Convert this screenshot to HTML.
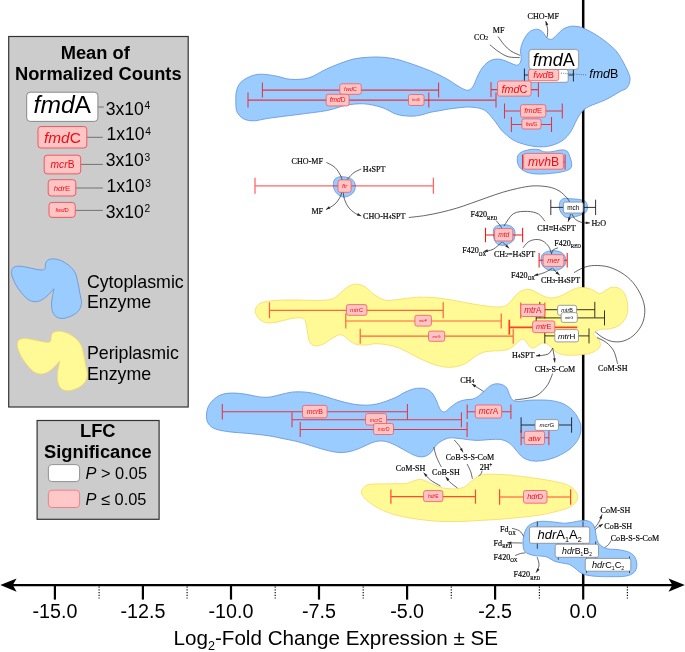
<!DOCTYPE html>
<html><head><meta charset="utf-8"><title>Log2-Fold Change Expression</title>
<style>
html,body{margin:0;padding:0;background:#fff}
svg{display:block}
text{font-family:"Liberation Sans",sans-serif}
text.s{font-family:"Liberation Serif",serif;fill:#000;stroke:#000;stroke-width:0.18px}
text.b{font-weight:bold}
</style></head><body>
<svg width="685" height="652" viewBox="0 0 685 652">
<rect width="685" height="652" fill="#fff"/>
<path d="M559.3 205.3C559.4 204 559.5 202.3 560.3 201.2C561.1 200 562.2 198.8 563.9 198.4C565.6 198 568 198.5 570.5 198.7C573 198.9 576.4 199.1 578.7 199.4C581 199.7 582.9 200 584.3 200.7C585.7 201.4 586.4 202.5 586.9 203.8C587.4 205.1 587.6 207 587.4 208.4C587.2 209.8 586.8 211 585.9 212C585 213 583.5 213.7 581.8 214.5C580.1 215.3 577.8 216 575.7 216.6C573.7 217.2 571.3 217.8 569.5 217.8C567.7 217.8 566.3 217.6 564.9 216.8C563.5 216 562.2 214.3 561.3 213C560.4 211.7 559.8 210.2 559.5 208.9C559.2 207.6 559.2 206.6 559.3 205.3Z" fill="#9accff" stroke="#5f90d8" stroke-width="0.8"/>
<path d="M583.2 0V585" stroke="#000" stroke-width="2.5" fill="none"/>
<path d="M235.8 101.3C235.7 97.8 235.7 94.1 236.5 91C237.3 87.9 238.3 85 240.6 82.5C242.9 80 247 77.7 250.5 76.3C254 74.9 257.2 74.2 261.5 74.2C265.8 74.2 271.1 75.2 276 76C280.9 76.8 285.2 79 290.7 79.3C296.2 79.6 302.9 79.6 309 77.8C315.1 76 320.5 71.6 327.2 68.7C333.9 65.8 342.9 62.1 349 60.3C355.1 58.4 359.1 58.1 364 57.6C368.9 57.1 373.5 56.9 378.3 57C383.1 57.1 388.1 57.6 393 58.5C397.9 59.4 401.4 60.5 407.5 62.5C413.6 64.5 422.8 67.8 429.4 70.5C436 73.2 442.6 76.6 447 79C451.4 81.4 453.2 83.1 456 84.8C458.8 86.5 461.8 88.4 464 89.3C466.2 90.2 467.4 90.5 469 90C470.6 89.5 472.1 87.9 473.3 86C474.6 84.1 475.3 81.1 476.5 78.5C477.7 75.9 479.1 72.8 480.5 70.5C481.9 68.2 483.4 66.1 485.2 64.4C486.9 62.7 489.1 61.2 491 60.3C492.9 59.4 494.9 59.2 496.9 59.1C498.8 59 500.6 59.3 502.7 59.9C504.8 60.5 507.6 61.8 509.7 62.6C511.8 63.5 514 64.7 515.5 65C517 65.3 517.7 65.1 518.5 64.6C519.3 64.1 520 63.2 520.5 62C521 60.8 521.2 59.1 521.2 57.4C521.2 55.6 520.5 53.5 520.5 51.5C520.5 49.5 520.8 47.8 521.4 45.7C522 43.6 523.1 40.9 524.3 38.7C525.5 36.6 526.9 34.3 528.4 32.8C529.9 31.3 531.5 30.5 533.1 29.9C534.7 29.3 536.2 29 537.7 29.3C539.2 29.6 541.1 30.6 542.4 31.7C543.7 32.8 544.5 34.7 545.3 35.8C546.1 36.9 546.3 37.5 547.1 38.1C547.9 38.7 549 39.2 550 39.3C551 39.4 551.8 39.4 553 38.5C554.2 37.6 555.7 35.9 557.5 34.2C559.3 32.6 561.7 29.9 564 28.6C566.3 27.3 569.1 26.5 571.4 26.2C573.7 25.9 576.1 26.3 578 26.6C579.9 26.9 580.5 26.9 583 28C585.5 29.1 589.7 31.1 593 33C596.3 34.9 600 37.3 603 39.5C606 41.7 608.5 43.8 611 46C613.5 48.2 615.3 49.6 617.7 53C620.1 56.4 623.5 62.3 625.5 66.5C627.5 70.7 629.7 74.5 630 78C630.3 81.5 629.1 85.2 627.4 87.4C625.7 89.7 622.9 89.8 620 91.5C617.1 93.2 613.1 95.8 610 97.5C606.9 99.2 604.8 100.1 601.5 101.5C598.2 102.9 593.1 104.5 590 106C586.9 107.5 585 108.6 583 110.5C581 112.4 579.7 114.7 578 117.5C576.3 120.3 574.4 124.8 573 127.5C571.6 130.2 570.9 131.7 569.5 133.6C568.1 135.5 566.3 137.5 564.5 139C562.7 140.5 561 141.7 558.7 142.8C556.5 143.9 553.5 144.9 551 145.6C548.5 146.3 546.1 146.7 543.4 146.8C540.7 147 537.5 146.8 535 146.5C532.5 146.2 530.6 145.9 528.1 145.3C525.6 144.7 522.5 143.9 520 143C517.5 142.1 515.1 141.2 512.8 139.8C510.5 138.4 508.1 136.3 506 134.5C503.9 132.7 502.2 131.1 500.5 129C498.8 126.9 497 124 495.5 122C494 120 492.7 118.5 491.3 116.8C489.9 115.1 488.5 113.3 487 112C485.5 110.7 484.1 109.8 482.1 109.1C480.1 108.3 477.6 107.8 475 107.5C472.4 107.2 469.8 106.9 466.8 107C463.8 107.1 460.1 107.7 457 108C453.9 108.3 451.6 108.6 448.4 109.1C445.2 109.6 441.1 110.5 438 111C434.9 111.5 432.8 111.7 430 112.4C427.2 113.1 424.1 114.4 421 115C417.9 115.6 415.2 116.3 411.1 116.2C407 116.1 401.4 115.8 396.5 114.3C391.6 112.8 387.5 109.2 382 107.5C376.5 105.8 369.8 104.1 363.7 103.8C357.6 103.5 351.5 104.3 345.4 105.4C339.3 106.5 335.1 109 327.2 110.5C319.3 112 307.7 113.2 298 114.5C288.3 115.8 276.1 117.2 268.8 118.3C261.5 119.3 258.2 120.7 254 120.8C249.8 120.9 246.3 120.3 243.5 118.8C240.7 117.3 238.3 114.7 237 111.8C235.7 108.9 235.9 104.8 235.8 101.3Z" fill="#9accff" stroke="#5f90d8" stroke-width="0.8"/>
<path d="M517.3 159.9C517.3 158.2 517.3 156.1 518.4 154.6C519.5 153.1 521.5 152 523.7 151.1C526 150.2 529.4 149.6 531.9 149.3C534.4 149.1 537 149.2 538.9 149.6C540.8 150 541.4 151.3 543.5 151.7C545.6 152 548.8 152 551.7 151.7C554.6 151.4 558.6 150 561.1 149.9C563.6 149.8 565.5 150 566.9 151.1C568.3 152.2 569 154.3 569.8 156.4C570.6 158.5 571.5 161.4 571.6 163.4C571.7 165.4 571.8 167.2 570.4 168.6C569 169.9 566.5 170.7 563.4 171.5C560.3 172.3 555.8 172.9 551.7 173.3C547.6 173.7 542.8 174.2 538.9 174.1C535 174 531.3 173.5 528.4 172.7C525.5 171.9 523.1 170.6 521.4 169.2C519.7 167.8 518.8 166.1 518.1 164.5C517.4 162.9 517.2 161.6 517.3 159.9Z" fill="#9accff" stroke="#5f90d8" stroke-width="0.8"/>
<path d="M333.3 185.8C333.3 184.2 333.4 181.4 334.3 179.9C335.2 178.4 336.9 177.5 338.7 177C340.5 176.5 343.1 176.6 345.3 177C347.5 177.4 350.2 178 351.8 179.2C353.4 180.4 354.8 182.4 355.2 184.3C355.6 186.2 355.2 189 354.3 190.9C353.4 192.8 351.5 194.5 349.6 195.5C347.7 196.5 345.2 197.3 343.1 197C341 196.7 338.7 195.1 337.2 193.8C335.7 192.5 334.9 190.7 334.3 189.4C333.7 188.1 333.3 187.4 333.3 185.8Z" fill="#9accff" stroke="#5f90d8" stroke-width="0.8"/>
<path d="M493.4 231.1C493.6 229.1 493.9 227.7 495.3 226.7C496.7 225.7 499.6 225.1 501.9 224.9C504.2 224.7 507.2 224.8 509.2 225.5C511.2 226.2 512.9 227.4 513.9 228.9C514.9 230.4 515.1 232.8 515 234.7C514.9 236.6 514.5 238.9 513.3 240.5C512.1 242.1 509.6 243.4 507.7 244.2C505.8 245 503.7 245.5 501.9 245.4C500.1 245.3 498.1 244.7 496.8 243.5C495.5 242.3 494.5 240.5 493.9 238.4C493.3 236.3 493.2 233.1 493.4 231.1Z" fill="#9accff" stroke="#5f90d8" stroke-width="0.8"/>
<path d="M541 258.8C541.1 257.1 541.5 255.4 542.8 254.1C544.1 252.8 546.4 251.8 548.6 251.2C550.8 250.6 553.6 250.5 555.9 250.8C558.2 251.1 560.9 251.9 562.5 253.2C564.1 254.5 565.4 256.8 565.8 258.8C566.2 260.8 565.7 263.6 564.7 265.4C563.7 267.1 561.7 268.4 559.6 269.3C557.5 270.2 554.6 270.6 552.3 270.5C550 270.4 547.4 269.7 545.7 268.7C544 267.7 542.8 266.2 542 264.6C541.2 263 540.9 260.6 541 258.8Z" fill="#9accff" stroke="#5f90d8" stroke-width="0.8"/>
<path d="M255.2 310.7C255.4 309.2 255.9 306.9 257.3 305.5C258.7 304.1 260.3 303 263.4 302.1C266.5 301.2 270.2 300.8 275.7 300.4C281.1 300 289.3 300 296.1 300C302.9 300 310.7 300.5 316.5 300.4C322.3 300.3 327.1 300.4 330.8 299.4C334.6 298.4 336.3 296.3 339 294.3C341.7 292.3 344.3 288.9 347.2 287.2C350.1 285.5 353.3 284.1 356.4 284.1C359.5 284.1 362.7 285.5 365.6 287.2C368.5 288.9 370.5 292.1 373.8 294.3C377.1 296.5 381.6 299.3 385.2 300.2C388.8 301.1 391.6 300.1 395.4 299.8C399.1 299.5 403.6 298.6 407.7 298.2C411.8 297.8 415.2 297.3 420 297.2C424.8 297.1 430.9 297.3 436.3 297.8C441.8 298.3 447.2 299.3 452.7 300.2C458.1 301.1 463.6 302.4 469 303.3C474.4 304.2 480.6 305.3 485.4 305.9C490.2 306.5 494.3 307 497.6 307C500.9 307 502.8 306.9 505 306C507.2 305.1 508.7 303.4 510.7 301.5C512.7 299.6 514.6 296.2 516.8 294.3C519 292.4 521.8 290.6 524 289.8C526.2 289 527.8 289.1 530 289.6C532.2 290.1 534.7 291.7 537 292.8C539.3 293.9 541.7 295.4 544 296.3C546.3 297.2 548.4 298 551 298C553.6 298 556.9 297.3 559.8 296.3C562.7 295.3 565.9 293.2 568.5 291.9C571.1 290.6 573.1 289.1 575.6 288.4C578.1 287.7 580.8 287.4 583.4 287.5C586 287.6 588.9 288.4 591.3 289.3C593.6 290.2 595.8 292.2 597.5 292.8C599.2 293.4 600.2 293.7 601.8 293.1C603.4 292.5 605.4 290.3 607.1 289.3C608.9 288.3 610.2 287.4 612.3 287.2C614.3 287 617.3 287.3 619.4 288.4C621.5 289.5 623.3 291.5 624.6 293.7C625.9 295.9 626.7 298.7 627.2 301.5C627.7 304.3 628.1 307.5 627.8 310.3C627.5 313.1 626.9 315.7 625.5 318.2C624.1 320.7 621.9 323.4 619.4 325.2C616.9 326.9 613.5 328 610.6 328.7C607.7 329.4 604.3 328.8 601.8 329.2C599.3 329.6 597.1 330.5 595.7 331.3C594.3 332.1 593.7 333.1 593.6 334C593.5 334.9 594.3 335.6 595.1 336.5C595.9 337.4 597.7 337.8 598.6 339.3C599.5 340.8 600.7 343.6 600.4 345.4C600.1 347.1 598.6 348.5 596.9 349.8C595.1 351.1 593.1 352.4 589.9 353.3C586.7 354.2 581.7 354.7 577.6 355C573.5 355.3 568.8 355.4 565.3 355C561.8 354.6 559.1 353.8 556.6 352.4C554.1 350.9 552.5 347.9 550.4 346.3C548.3 344.7 546.2 343.1 544.3 342.8C542.4 342.5 540.9 343.6 539.1 344.5C537.4 345.4 535.4 347.7 533.8 348C532.2 348.3 530.9 347.6 529.4 346.3C527.9 345 526.3 341.3 525 340.1C523.7 338.9 523 338.7 521.5 339.3C520 339.9 518.3 342.1 516.3 343.7C514.3 345.3 511.9 347.7 509.3 348.9C506.7 350.1 503.1 350.4 500.5 350.7C497.9 351 496.4 350.6 493.5 350.9C490.6 351.2 486.4 351.4 483.3 352.3C480.2 353.2 477.8 354.7 475.1 356.4C472.4 358.1 469.7 361 467 362.6C464.3 364.2 461.9 365.2 458.8 366C455.7 366.8 452.4 367.4 448.6 367.3C444.9 367.2 440.4 366.3 436.3 365.2C432.2 364.1 428.1 362.3 424 360.5C419.9 358.7 415.9 356.4 411.8 354.4C407.7 352.3 403.6 349.8 399.5 348.2C395.4 346.6 391.4 345.6 387.3 344.8C383.2 344.1 378.3 343.7 375 343.7C371.7 343.7 370.7 344.9 367.6 345C364.5 345.1 359.5 345.2 356.4 344.4C353.3 343.6 351.4 341.8 349.2 340.3C347 338.8 345 336.2 343.1 335.4C341.2 334.5 340.1 334.5 338 335.2C335.9 335.9 333.4 337.8 330.8 339.3C328.2 340.8 325.4 343.3 322.7 344.4C320 345.5 316.7 346.3 314.5 345.8C312.3 345.3 310.6 343.8 309.4 341.3C308.2 338.9 308 334.5 307.3 331.1C306.6 327.7 306.5 323.1 305.3 320.9C304.1 318.7 302.8 318.1 300.2 317.8C297.6 317.5 293.8 318.1 290 318.8C286.2 319.5 281.4 321.2 277.7 321.9C273.9 322.6 270.4 323.2 267.5 322.9C264.6 322.6 262.2 321.3 260.3 319.9C258.4 318.5 257.1 316.2 256.2 314.7C255.3 313.2 255 312.2 255.2 310.7Z" fill="#fffa96" stroke="#f7d860" stroke-width="0.8"/>
<path d="M206.5 414C206.8 410.8 207.6 407.2 209.6 404.2C211.6 401.2 215 397.9 218.4 396C221.8 394.1 225.6 393.4 230 393.1C234.4 392.8 239.7 393.4 244.6 394C249.5 394.6 254.8 396.4 259.2 396.9C263.6 397.4 267 397.4 270.9 396.9C274.8 396.4 278.7 394.8 282.6 394C286.5 393.2 289.9 392.1 294.3 391.9C298.7 391.6 304 391.8 308.9 392.5C313.8 393.2 318.1 394.5 323.5 396C328.9 397.5 335.2 399.8 341 401.3C346.8 402.8 352.7 404.3 358.5 404.8C364.3 405.3 369.9 405.4 376 404.2C382.1 403 390.4 399.6 395 397.7C399.6 395.8 400.9 394.2 403.8 392.8C406.7 391.4 409.8 390 412.5 389.2C415.2 388.4 417.8 388.2 420 388.2C422.2 388.1 423.9 388.2 425.8 388.9C427.8 389.6 430 390.7 431.7 392.5C433.4 394.3 434.9 397.4 436.1 399.8C437.3 402.2 438 405.2 439 407.1C440 409 440.8 410.5 441.9 411.2C443 411.9 444 412.2 445.5 411.5C447 410.8 448.6 408.7 450.7 407.1C452.8 405.5 455.6 403.2 458 402C460.4 400.8 462.9 400.3 465.3 399.8C467.7 399.3 470.4 399.7 472.6 399.1C474.8 398.5 476.5 397.5 478.4 396.2C480.3 394.9 482.2 392.8 484.2 391.1C486.1 389.4 488.2 387.1 490.1 385.9C492.1 384.7 493.9 384 495.9 383.8C497.8 383.6 500 383.8 501.8 384.5C503.6 385.2 505.6 386.3 506.9 388.1C508.2 389.9 508.7 393.3 509.8 395.4C510.9 397.5 511.7 399.5 513.4 400.5C515.1 401.5 516.9 401.4 520 401.3C523.1 401.2 527.2 400.2 532.2 400.1C537.2 400 544.6 399.8 549.7 400.4C554.8 401 559 401.9 562.9 403.6C566.8 405.4 570.3 408 573.1 410.9C575.9 413.8 578.2 418.2 579.5 421.1C580.8 424 581 425.5 581 428C581 430.5 580.7 433.6 579.6 436.3C578.5 439.1 576.7 441.9 574.5 444.5C572.3 447.1 569.7 449.4 566.3 451.6C562.9 453.8 558.1 456.3 554 457.8C549.9 459.3 545.5 460.3 541.8 460.8C538 461.3 534.6 461.3 531.5 460.8C528.4 460.3 525.8 459.3 523.4 457.8C521 456.3 519.2 453.8 517.2 451.6C515.2 449.4 513.5 446.4 511.1 444.5C508.7 442.6 506 440.9 502.9 440C499.8 439.1 497.1 439.3 492.7 439.4C488.3 439.5 481.8 440.5 476.4 440.4C471 440.3 464.6 439 460.1 438.6C455.6 438.2 452.5 437.6 449.6 437.9C446.7 438.2 444.7 439.4 442.6 440.5C440.5 441.6 438.9 442.5 436.9 444.5C434.9 446.5 432.8 450.7 430.8 452.7C428.8 454.7 426.9 455.8 424.7 456.4C422.5 457 420.2 457.1 417.5 456.4C414.8 455.7 411.5 453.9 408.3 452.3C405.1 450.7 401.5 448.3 398.1 446.6C394.7 444.9 391 443 387.9 442.1C384.8 441.2 382.4 440.9 379.7 441C377 441.1 374.6 441.8 371.5 442.9C368.4 444 365.1 446.1 361.3 447.6C357.6 449.1 353.1 450.9 349 451.7C344.9 452.5 341.6 452.8 336.8 452.3C332 451.8 326.5 450.3 320.4 448.6C314.3 446.9 305.9 443.9 300 442.3C294.1 440.7 290.3 440.1 285 439C279.7 437.9 274.2 436.6 268 435.7C261.8 434.8 253.9 434 247.6 433.4C241.3 432.8 235.4 432.6 230 431.9C224.6 431.2 219.1 430.4 215.4 429C211.8 427.6 209.6 425.7 208.1 423.2C206.6 420.7 206.2 417.2 206.5 414Z" fill="#9accff" stroke="#5f90d8" stroke-width="0.8"/>
<path d="M361.3 492C361.3 490.8 361.8 489.7 362.8 488.5C363.8 487.3 365.3 485.6 367.3 484.9C369.3 484.1 371.9 484.2 375 484C378.1 483.8 382.2 483.9 385.7 483.9C389.2 483.9 392.6 483.9 396 483.8C399.4 483.7 403.4 483.9 406.1 483.5C408.8 483.1 409.8 482.1 412.2 481.4C414.6 480.7 417.7 479.2 420.4 479.4C423.1 479.5 425.2 481 428.6 482.3C432 483.6 437.2 486.3 440.8 487.4C444.4 488.5 447.3 488.6 450 488.8C452.7 489 454.6 489.2 457.2 488.8C459.8 488.4 462.7 488 465.4 486.4C468.1 484.8 470.8 481.3 473.5 479.4C476.2 477.5 478.9 475.9 481.7 475C484.5 474.1 487.3 474.3 490.4 474.2C493.4 474.1 496.6 474.3 500 474.5C503.4 474.7 505.7 474.7 510.9 475.2C516.1 475.7 524.5 476.8 531.3 477.7C538.1 478.6 546 479.8 551.8 480.9C557.6 482 562.4 483 566.1 484.4C569.8 485.8 572.3 487.4 574.2 489.5C576.1 491.6 577.5 494.5 577.7 496.7C577.9 498.9 576.9 500.9 575.3 502.8C573.7 504.7 571.4 506.4 568.1 507.9C564.9 509.4 560.6 510.4 555.8 511.6C551 512.8 545.3 514.2 539.5 515.1C533.7 516 527.6 516.6 521.1 517.3C514.6 518 507.5 518.7 500.7 519.2C493.9 519.7 487.4 520 480.2 520.4C472.9 520.8 464.4 521.5 457.2 521.6C450 521.7 443.6 521.6 436.8 521.2C430 520.8 423.1 520 416.3 519C409.5 518 402 516.7 395.9 515C389.8 513.3 384.3 511.2 379.5 508.8C374.7 506.4 370.1 502.9 367.3 500.7C364.5 498.5 363.6 496.9 362.6 495.5C361.6 494.1 361.3 493.2 361.3 492Z" fill="#fffa96" stroke="#f7d860" stroke-width="0.8"/>
<path d="M523 543C523 540.8 523.1 538.1 523.7 535.7C524.3 533.3 525.2 530.4 526.4 528.5C527.6 526.6 528.6 525.3 530.9 524.1C533.2 522.9 536.5 521.8 540.1 521.4C543.8 521 548.5 521.6 552.8 521.9C557 522.2 561.6 523.3 565.6 523.2C569.6 523.1 573.2 521.9 576.6 521.4C580 520.9 583.1 520.2 585.7 520.5C588.3 520.8 590.5 521.7 592.1 523.2C593.7 524.7 594.5 527 595.2 529.6C596 532.2 595.8 536.1 596.6 538.7C597.5 541.3 598.5 543.4 600.3 545.1C602.1 546.8 604.6 548 607.6 548.8C610.6 549.6 614.9 549.1 618.5 549.7C622.1 550.3 626.7 551 629.5 552.4C632.3 553.8 634.1 555.6 635.3 557.9C636.5 560.2 637 563.7 636.8 566.1C636.6 568.5 635.8 570.8 634 572.5C632.2 574.2 629.6 575.4 625.8 576.1C622 576.8 616.7 576.7 611.2 576.7C605.7 576.7 597.9 576.7 593 576.1C588.1 575.5 585 574.8 582 573.4C579 572 576.8 569.4 574.7 567.9C572.6 566.4 571.4 565.2 569.3 564.4C567.2 563.6 564.4 563.5 562 563C559.6 562.5 557 562.2 554.7 561.3C552.4 560.4 550 558.4 548 557.5C546 556.6 545 556.5 542.7 556.2C540.4 555.9 536.8 556 534.1 555.5C531.4 555 528.4 554 526.7 553C525 552 524.3 550.9 523.7 549.2C523.1 547.5 523 545.2 523 543Z" fill="#9accff" stroke="#5f90d8" stroke-width="0.8"/>
<path d="M489.9 44.8C491.4 46 496.1 50.1 499.2 52.1C502.3 54.1 505.1 55.9 508.5 56.8C511.9 57.7 517.8 57.5 519.6 57.6" fill="none" stroke="#222" stroke-width="0.7"/>
<path d="M498 36.4C499 37.8 501.8 42.1 503.9 44.5C506 46.9 508.2 49.2 510.9 51C513.6 52.8 518.7 54.7 520.2 55.4" fill="none" stroke="#222" stroke-width="0.7"/>
<path d="M547.1 37.5C547.2 36.3 547.8 32.8 547.7 30.5C547.6 28.2 546.8 25.1 546.5 23.5C546.2 21.9 545.8 21.4 545.7 21" fill="none" stroke="#222" stroke-width="0.7"/>
<path d="M545.7 21L548.3 24.6L545.7 25.4Z" fill="#222"/>
<path d="M326.3 162.4C327.8 163.2 332.6 165.2 335 167.5C337.4 169.8 339.5 173.4 340.9 176.3C342.2 179.2 342.6 181.6 343.1 185C343.6 188.4 343 193 343.8 196.7C344.6 200.3 346.2 204.1 348.2 206.9C350.1 209.7 353.3 212 355.5 213.5C357.7 215 360.3 215.6 361.3 216" fill="none" stroke="#222" stroke-width="0.7"/>
<path d="M361.3 216L356.9 215.6L358 213.1Z" fill="#222"/>
<path d="M361.3 169C360.1 169.6 356.3 170.9 354 172.6C351.7 174.3 349.2 177.1 347.4 179.2C345.6 181.3 344.2 182.3 343.1 185C342 187.7 342.2 192.1 340.9 195.3C339.5 198.5 337.5 201.6 335 204C332.5 206.4 327.5 208.7 326 209.6" fill="none" stroke="#222" stroke-width="0.7"/>
<path d="M326 209.6L328.9 206.2L330.3 208.5Z" fill="#222"/>
<path d="M408.8 217.5C411.6 217.2 420.3 216.3 425.7 215.4C431.1 214.5 435.9 213.5 441 212.3C446.1 211.1 451.2 209.8 456.3 208.3C461.4 206.8 466.5 204.9 471.6 203.1C476.7 201.3 481.9 199.4 487 197.6C492.1 195.8 497.2 193.9 502.3 192.4C507.4 190.9 512.5 189.5 517.6 188.4C522.7 187.3 527.9 186.2 533 185.9C538.1 185.7 544 186.1 548.3 186.9C552.6 187.7 555.9 189 559 190.8C562.1 192.6 564.9 195.7 566.7 197.6C568.5 199.5 569.2 201.4 569.7 202.2" fill="none" stroke="#222" stroke-width="0.7"/>
<path d="M571.8 214C572.4 214.9 573.9 218.2 575.7 219.6C577.5 221 580.4 222.1 582.8 222.7C585.2 223.2 588.8 222.9 590 222.9" fill="none" stroke="#222" stroke-width="0.7"/>
<path d="M590 222.9L585.8 224.1L585.8 221.4Z" fill="#222"/>
<path d="M570.5 214C570.3 214.7 569.9 216.7 569.5 218C569.1 219.3 568.2 221.1 568 221.7" fill="none" stroke="#222" stroke-width="0.7"/>
<path d="M568 221.7L568.3 217.3L570.8 218.3Z" fill="#222"/>
<path d="M544.9 221.2C543.8 220 541.3 215.6 538.4 214C535.5 212.4 531.6 211.5 527.4 211.4C523.2 211.3 517.3 211.3 513.4 213.7C509.5 216.1 505.6 223.9 504 226" fill="none" stroke="#222" stroke-width="0.7"/>
<path d="M496 220.5C496.5 221.1 498 222.7 499 224C500 225.3 501.4 227.4 501.9 228.1" fill="none" stroke="#222" stroke-width="0.7"/>
<path d="M501.9 242C500.4 243.2 496.2 247.7 493.1 249.3C490.1 250.9 485.2 251.1 483.6 251.5" fill="none" stroke="#222" stroke-width="0.7"/>
<path d="M483.6 251.5L487.4 249.2L488 251.9Z" fill="#222"/>
<path d="M502.6 242C503.2 242.6 504.9 244.4 506 245.5C507.1 246.6 508.7 247.8 509.2 248.3" fill="none" stroke="#222" stroke-width="0.7"/>
<path d="M509.2 248.3L505.2 246.6L506.9 244.5Z" fill="#222"/>
<path d="M523.1 247.8C524 246.8 526.1 243.4 528.2 242C530.3 240.6 533.1 239.7 535.5 239.5C537.9 239.3 540.6 239.8 542.8 241C545 242.2 547.1 244.3 548.6 246.4C550.1 248.5 551 252.5 551.5 253.7" fill="none" stroke="#222" stroke-width="0.7"/>
<path d="M558.1 247.8C557.2 248.2 554.1 248.9 553 250C551.9 251.1 551.8 253.4 551.5 254.1" fill="none" stroke="#222" stroke-width="0.7"/>
<path d="M552.3 268.3C550.9 269 547.2 271.5 544.2 272.7C541.2 273.9 535.7 275.1 534 275.6" fill="none" stroke="#222" stroke-width="0.7"/>
<path d="M534 275.6L537.7 273.2L538.4 275.7Z" fill="#222"/>
<path d="M553 268.3C553.5 268.9 554.9 270.9 556 272C557.1 273.1 559 274.6 559.6 275.1" fill="none" stroke="#222" stroke-width="0.7"/>
<path d="M559.6 275.1L555.5 273.4L557.3 271.3Z" fill="#222"/>
<path d="M574 272.6C575.6 271.8 580.2 268.8 583.6 267.6C587 266.4 590.1 265.6 594.4 265.5C598.7 265.4 604.4 265.7 609.4 267.2C614.4 268.7 620.1 271.7 624.4 274.7C628.7 277.7 632.2 281.3 635.2 285.4C638.2 289.5 641.1 294.9 642.7 299.4C644.3 303.9 645 308 644.8 312.3C644.6 316.6 643.6 321.3 641.6 325.2C639.6 329.1 636.2 333.2 633 335.9C629.8 338.6 625.9 340.4 622.3 341.3C618.7 342.2 614.9 342 611.5 341.3C608.1 340.6 604.6 338.6 601.9 337C599.2 335.4 596.5 332.8 595.4 332" fill="none" stroke="#222" stroke-width="0.7"/>
<path d="M597 337.6C598.5 338.4 603.4 340.2 606.2 342.4C609 344.6 611.8 347.3 613.7 350.9C615.6 354.5 617 361.6 617.6 363.8" fill="none" stroke="#222" stroke-width="0.7"/>
<path d="M552.7 348C552.9 349.2 553.6 352.6 554 355C554.4 357.4 554.7 361.2 554.8 362.5" fill="none" stroke="#222" stroke-width="0.7"/>
<path d="M554.8 362.5L553 358.5L555.7 358.2Z" fill="#222"/>
<path d="M552.7 348C551.9 349 550.6 352.9 547.8 354.2C545 355.5 537.9 355.6 535.9 355.9" fill="none" stroke="#222" stroke-width="0.7"/>
<path d="M535.9 355.9L539.9 354L540.2 356.6Z" fill="#222"/>
<path d="M552.7 373.5C551.7 375.6 549.7 382.2 546.8 386C543.9 389.8 540.5 394 535.1 396.3C529.8 398.6 518.1 399.4 514.7 400" fill="none" stroke="#222" stroke-width="0.7"/>
<path d="M483.5 391.4C482.5 390.8 479.4 388.8 477.5 387.6C475.6 386.4 472.8 384.6 471.8 384" fill="none" stroke="#222" stroke-width="0.7"/>
<path d="M471.8 384L476.1 385.1L474.6 387.4Z" fill="#222"/>
<path d="M454.3 440C455.2 441 458.1 444.1 459.5 446.1C460.9 448.2 462.4 451.3 463 452.3" fill="none" stroke="#222" stroke-width="0.7"/>
<path d="M463 452.3L459.8 449.3L462.1 448Z" fill="#222"/>
<path d="M433.9 447.2C434.2 448.6 435 452.6 435.9 455.3C436.8 458 438.6 461.5 439.5 463.5C440.4 465.5 441.2 466.5 441.6 467.1" fill="none" stroke="#222" stroke-width="0.7"/>
<path d="M457.4 488C456.1 487 451.6 483.8 449.7 481.9C447.8 480 446.4 477.6 445.7 476.8" fill="none" stroke="#222" stroke-width="0.7"/>
<path d="M445.7 476.8L449.4 479.3L447.2 480.9Z" fill="#222"/>
<path d="M440.5 486C438.8 485 433.1 482.1 430.3 479.9C427.5 477.7 424.8 473.9 423.7 472.7" fill="none" stroke="#222" stroke-width="0.7"/>
<path d="M423.7 472.7L427.5 474.9L425.5 476.7Z" fill="#222"/>
<path d="M467.1 464C467.7 465.3 469.8 469.2 470.7 471.7C471.6 474.2 472.1 477.6 472.4 478.8" fill="none" stroke="#222" stroke-width="0.7"/>
<path d="M482 470.6C481.9 471.1 481.7 472.9 481.1 473.8C480.5 474.7 478.9 475.5 478.5 475.9" fill="none" stroke="#222" stroke-width="0.7"/>
<path d="M512 528.3C513.2 528.7 517.4 529.5 519.4 530.8C521.4 532.1 523 535.4 523.7 536.3" fill="none" stroke="#222" stroke-width="0.7"/>
<path d="M522.4 543C521.2 543 517.5 542.9 515 542.9C512.5 542.9 508.4 542.8 507.1 542.8" fill="none" stroke="#222" stroke-width="0.7"/>
<path d="M507.1 542.8L511.3 541.5L511.3 544.2Z" fill="#222"/>
<path d="M515.1 555.6C516 555.2 518.9 554 520.6 553.5C522.3 553 524.7 553 525.5 552.9" fill="none" stroke="#222" stroke-width="0.7"/>
<path d="M537.1 557.1C537.4 558.2 538.9 561.8 539 563.9C539.1 566 538.3 568.6 537.8 570C537.3 571.4 536.2 572.1 535.9 572.5" fill="none" stroke="#222" stroke-width="0.7"/>
<path d="M535.9 572.5L537.4 568.3L539.5 570Z" fill="#222"/>
<path d="M594.8 527.8C595.5 526.8 597.8 524.2 599 522C600.2 519.8 601.6 515.8 602.1 514.5" fill="none" stroke="#222" stroke-width="0.7"/>
<path d="M602.1 514.5L601.7 518.9L599.2 517.9Z" fill="#222"/>
<path d="M595.2 529.6C595.8 529.1 597.7 527.4 599 526.5C600.3 525.6 602.3 524.5 603 524.1" fill="none" stroke="#222" stroke-width="0.7"/>
<path d="M603 524.1L600.1 527.4L598.7 525.1Z" fill="#222"/>
<path d="M611.2 540.5C610.8 541.2 609.5 543.3 608.5 544.5C607.5 545.7 605.5 547 604.9 547.5" fill="none" stroke="#222" stroke-width="0.7"/>
<path d="M262.4 90.1H438.6M262.4 82.6V97.6M438.6 82.6V97.6" fill="none" stroke="#ff0000" stroke-width="1.05" opacity="0.75"/>
<path d="M248 100.1H496M248 92.6V107.6M496 92.6V107.6" fill="none" stroke="#ff0000" stroke-width="1.05" opacity="0.75"/>
<path d="M428.8 100.1H428.8M428.8 92.6V107.6" fill="none" stroke="#ff0000" stroke-width="1.05" opacity="0.75"/>
<path d="M491 89.6H538.4M491 82.1V97.1M538.4 82.1V97.1" fill="none" stroke="#ff0000" stroke-width="1.05" opacity="0.75"/>
<path d="M504.5 111H562.3M504.5 103.5V118.5M562.3 103.5V118.5" fill="none" stroke="#ff0000" stroke-width="1.05" opacity="0.75"/>
<path d="M511.4 124.4H551.5M511.4 116.9V131.9M551.5 116.9V131.9" fill="none" stroke="#ff0000" stroke-width="1.05" opacity="0.75"/>
<path d="M524.4 75H573.4M524.4 68.5V81.5M573.4 68.5V81.5" fill="none" stroke="#111" stroke-width="1.0" opacity="0.85"/>
<path d="M522.5 162H565.1M522.5 154.4V169.6M565.1 154.4V169.6" fill="none" stroke="#ff0000" stroke-width="1.05" opacity="0.75"/>
<path d="M255 185.8H433.4M255 177.8V193.8M433.4 177.8V193.8" fill="none" stroke="#ff0000" stroke-width="1.3" opacity="0.6"/>
<path d="M550.8 207.4H595.6M550.8 199.7V215.1M595.6 199.7V215.1" fill="none" stroke="#111" stroke-width="1.0" opacity="0.85"/>
<path d="M485.5 235H522.6M485.5 227.7V242.3M522.6 227.7V242.3" fill="none" stroke="#ff0000" stroke-width="1.05" opacity="0.92"/>
<path d="M539.1 260.3H567.2M539.1 253V267.6M567.2 253V267.6" fill="none" stroke="#ff0000" stroke-width="1.05" opacity="0.92"/>
<path d="M269.5 310.3H443.2M269.5 302.3V318.3M443.2 302.3V318.3" fill="none" stroke="#ff0000" stroke-width="1.2" opacity="0.6"/>
<path d="M345.8 321H501.2M345.8 313.5V328.5M501.2 313.5V328.5" fill="none" stroke="#ff0000" stroke-width="1.2" opacity="0.6"/>
<path d="M360.2 336.2H513.2M360.2 328.7V343.7M513.2 328.7V343.7" fill="none" stroke="#ff0000" stroke-width="1.2" opacity="0.6"/>
<path d="M520.8 310.5H544.8M520.8 302.5V318.5M544.8 302.5V318.5" fill="none" stroke="#ff0000" stroke-width="1.05" opacity="0.75"/>
<path d="M509.3 327.3H577.3M509.3 319.8V334.8" fill="none" stroke="#ff0000" stroke-width="1.7" opacity="0.75"/>
<path d="M539.8 309.7H594.8M539.8 301.9V317.5M594.8 301.9V317.5" fill="none" stroke="#111" stroke-width="1.0" opacity="0.85"/>
<path d="M536.2 317.9H604.5M536.2 310.4V325.4M604.5 310.4V325.4" fill="none" stroke="#111" stroke-width="1.0" opacity="0.85"/>
<path d="M544.8 335.9H589M544.8 328.4V343.4M589 328.4V343.4" fill="none" stroke="#111" stroke-width="1.0" opacity="0.85"/>
<path d="M222.3 411.7H407.4M222.3 403.9V419.5M407.4 403.9V419.5" fill="none" stroke="#ff0000" stroke-width="1.05" opacity="0.75"/>
<path d="M292 419.7H461.4M292 412.2V427.2M461.4 412.2V427.2" fill="none" stroke="#ff0000" stroke-width="1.05" opacity="0.75"/>
<path d="M300.2 429.5H467.1M300.2 422.1V436.9M467.1 422.1V436.9" fill="none" stroke="#ff0000" stroke-width="1.05" opacity="0.75"/>
<path d="M467.2 411.7H510.9M467.2 404.4V419M510.9 404.4V419" fill="none" stroke="#ff0000" stroke-width="1.05" opacity="0.75"/>
<path d="M521.1 425H571.6M521.1 417.3V432.7M571.6 417.3V432.7" fill="none" stroke="#111" stroke-width="1.0" opacity="0.85"/>
<path d="M521.1 437.8H548.9M521.1 430.3V445.3M548.9 430.3V445.3" fill="none" stroke="#ff0000" stroke-width="1.05" opacity="0.75"/>
<path d="M390.9 496.6H475.5M390.9 489.4V503.8M475.5 489.4V503.8" fill="none" stroke="#ff0000" stroke-width="1.2" opacity="0.7"/>
<path d="M499.6 497H570.6M499.6 489.2V504.8M570.6 489.2V504.8" fill="none" stroke="#ff0000" stroke-width="1.2" opacity="0.7"/>
<path d="M537.3 521.4V548.8M583 521.4V548.8M558.3 541.5V559.7M595.7 541.5V559.7M586.6 556.6V573M629.5 556.6V573" stroke="#345" stroke-width="1" fill="none"/>
<rect x="339.8" y="83.8" width="21.4" height="10.5" rx="2" fill="#ffc5c5" stroke="#f2585f" stroke-width="0.8"/>
<text x="350.5" y="91" font-size="5.6" fill="#f00c14" text-anchor="middle"><tspan font-style="italic">fwd</tspan>C</text>
<rect x="326.2" y="94.3" width="22.8" height="11.6" rx="2" fill="#ffc5c5" stroke="#f2585f" stroke-width="0.8"/>
<text x="337.6" y="102.3" font-size="6.6" fill="#f00c14" text-anchor="middle"><tspan font-style="italic">fmd</tspan>D</text>
<rect x="408.5" y="94.5" width="15.5" height="11" rx="2" fill="#ffc5c5" stroke="#f2585f" stroke-width="0.8"/>
<text x="416.2" y="101.2" font-size="3.6" fill="#f00c14" text-anchor="middle"><tspan font-style="italic">fwd</tspan>D</text>
<rect x="528.7" y="69.5" width="39.5" height="12.8" rx="2" fill="#fff" stroke="#888" stroke-width="0.8"/>
<path d="M561 73.1L587 75" stroke="#555" stroke-width="0.8" stroke-dasharray="1 1.2" fill="none"/>
<rect x="528.5" y="69.5" width="30.2" height="11.1" rx="2" fill="#ffc5c5" stroke="#f2585f" stroke-width="0.8"/>
<text x="543.6" y="77.8" font-size="9.2" fill="#f00c14" text-anchor="middle"><tspan font-style="italic">fwd</tspan>B</text>
<rect x="529" y="49.4" width="49.6" height="20" rx="3" fill="#ffffff" stroke="#888" stroke-width="0.8"/>
<text x="553.8" y="66.2" font-size="18" fill="#000" text-anchor="middle"><tspan font-style="italic">fmd</tspan>A</text>
<text x="589.2" y="77.6" font-size="12.5"><tspan font-style="italic">fmd</tspan>B</text>
<rect x="497.6" y="81" width="33.4" height="15.1" rx="2" fill="#ffc5c5" stroke="#f2585f" stroke-width="0.8"/>
<text x="514.3" y="92.6" font-size="10.8" fill="#f00c14" text-anchor="middle"><tspan font-style="italic">fmd</tspan>C</text>
<rect x="520.5" y="104.7" width="25.3" height="12.5" rx="2" fill="#ffc5c5" stroke="#f2585f" stroke-width="0.8"/>
<text x="533.1" y="113.3" font-size="7.6" fill="#f00c14" text-anchor="middle"><tspan font-style="italic">fmd</tspan>E</text>
<rect x="521.9" y="118.9" width="19.1" height="10.1" rx="2" fill="#ffc5c5" stroke="#f2585f" stroke-width="0.8"/>
<text x="531.5" y="125.8" font-size="5" fill="#f00c14" text-anchor="middle"><tspan font-style="italic">fwd</tspan>G</text>
<rect x="523.7" y="153.4" width="39.7" height="15.8" rx="2" fill="#ffc5c5" stroke="#f2585f" stroke-width="0.8"/>
<text x="543.5" y="165.8" font-size="12.2" fill="#f00c14" text-anchor="middle"><tspan font-style="italic">mvh</tspan>B</text>
<rect x="338" y="179.9" width="13.1" height="12.4" rx="2" fill="#ffc5c5" stroke="#f2585f" stroke-width="0.8"/>
<text x="344.6" y="188" font-size="6" fill="#f00c14" text-anchor="middle"><tspan font-style="italic">ftr</tspan></text>
<rect x="563.4" y="202.1" width="19.7" height="10.9" rx="2" fill="#ffffff" stroke="#888" stroke-width="0.8"/>
<text x="573.2" y="209.5" font-size="6.4" fill="#000" text-anchor="middle"><tspan font-style="italic"></tspan>mch</text>
<rect x="494.6" y="228.6" width="18.2" height="12.4" rx="2" fill="#ffc5c5" stroke="#f2585f" stroke-width="0.8"/>
<text x="503.7" y="237" font-size="6.6" fill="#f00c14" text-anchor="middle"><tspan font-style="italic">mtd</tspan></text>
<rect x="543.1" y="254.7" width="20.8" height="11.7" rx="2" fill="#ffc5c5" stroke="#f2585f" stroke-width="0.8"/>
<text x="553.5" y="262.9" font-size="7.2" fill="#f00c14" text-anchor="middle"><tspan font-style="italic">mer</tspan></text>
<rect x="346.4" y="304.6" width="20.5" height="10.7" rx="2" fill="#ffc5c5" stroke="#f2585f" stroke-width="0.8"/>
<text x="356.6" y="312" font-size="6" fill="#f00c14" text-anchor="middle"><tspan font-style="italic">mtr</tspan>C</text>
<rect x="414.9" y="315.3" width="16.5" height="10.8" rx="2" fill="#ffc5c5" stroke="#f2585f" stroke-width="0.8"/>
<text x="423.1" y="322" font-size="3.8" fill="#f00c14" text-anchor="middle"><tspan font-style="italic">mtr</tspan>F</text>
<rect x="428.5" y="331.1" width="16.2" height="10.2" rx="2" fill="#ffc5c5" stroke="#f2585f" stroke-width="0.8"/>
<text x="436.6" y="337.6" font-size="3.6" fill="#f00c14" text-anchor="middle"><tspan font-style="italic">mtr</tspan>G</text>
<rect x="520.8" y="304.3" width="24" height="12.2" rx="2" fill="#ffc5c5" stroke="#f2585f" stroke-width="0.8"/>
<text x="532.8" y="313.2" font-size="8.2" fill="#f00c14" text-anchor="middle"><tspan font-style="italic">mtr</tspan>A</text>
<rect x="557.6" y="305.3" width="19" height="9.9" rx="2" fill="#ffffff" stroke="#888" stroke-width="0.8"/>
<text x="567.1" y="312.2" font-size="5.5" fill="#000" text-anchor="middle"><tspan font-style="italic">mtr</tspan>B</text>
<rect x="561.2" y="312.6" width="16.1" height="9.8" rx="2" fill="#ffffff" stroke="#888" stroke-width="0.8"/>
<text x="569.2" y="318.8" font-size="3.6" fill="#000" text-anchor="middle"><tspan font-style="italic">mtr</tspan>G</text>
<rect x="532.6" y="320.9" width="22.2" height="11.7" rx="2" fill="#ffc5c5" stroke="#f2585f" stroke-width="0.8"/>
<text x="543.7" y="329.3" font-size="7.4" fill="#f00c14" text-anchor="middle"><tspan font-style="italic">mtr</tspan>E</text>
<rect x="554.8" y="329.6" width="23.7" height="12.3" rx="2" fill="#ffffff" stroke="#888" stroke-width="0.8"/>
<text x="566.6" y="338.6" font-size="8" fill="#000" text-anchor="middle"><tspan font-style="italic">mtr</tspan>H</text>
<rect x="302.5" y="405.4" width="24.6" height="12.4" rx="2" fill="#ffc5c5" stroke="#f2585f" stroke-width="0.8"/>
<text x="314.8" y="414" font-size="7" fill="#f00c14" text-anchor="middle"><tspan font-style="italic">mcr</tspan>B</text>
<rect x="365.6" y="413.6" width="20.9" height="11.4" rx="2" fill="#ffc5c5" stroke="#f2585f" stroke-width="0.8"/>
<text x="376.1" y="421.6" font-size="5.3" fill="#f00c14" text-anchor="middle"><tspan font-style="italic">mcr</tspan>C</text>
<rect x="373.6" y="423.5" width="19.9" height="11" rx="2" fill="#ffc5c5" stroke="#f2585f" stroke-width="0.8"/>
<text x="383.6" y="431.4" font-size="4.9" fill="#f00c14" text-anchor="middle"><tspan font-style="italic">mcr</tspan>D</text>
<rect x="475.3" y="405" width="26.3" height="13" rx="2" fill="#ffc5c5" stroke="#f2585f" stroke-width="0.8"/>
<text x="488.5" y="414.4" font-size="8.4" fill="#f00c14" text-anchor="middle"><tspan font-style="italic">mcr</tspan>A</text>
<rect x="535.1" y="419.6" width="23.4" height="10.8" rx="2" fill="#ffffff" stroke="#888" stroke-width="0.8"/>
<text x="546.8" y="427.1" font-size="6" fill="#000" text-anchor="middle"><tspan font-style="italic">mcr</tspan>G</text>
<rect x="524.3" y="431.3" width="20.2" height="13.2" rx="2" fill="#ffc5c5" stroke="#f2585f" stroke-width="0.8"/>
<text x="534.4" y="440.8" font-size="8" fill="#f00c14" text-anchor="middle"><tspan font-style="italic">atw</tspan></text>
<rect x="423.6" y="490.6" width="19.3" height="11" rx="2" fill="#ffc5c5" stroke="#f2585f" stroke-width="0.8"/>
<text x="433.2" y="498" font-size="5" fill="#f00c14" text-anchor="middle"><tspan font-style="italic">hdr</tspan>E</text>
<rect x="523.5" y="490.5" width="23.5" height="12.7" rx="2" fill="#ffc5c5" stroke="#f2585f" stroke-width="0.8"/>
<text x="535.2" y="499.4" font-size="7.4" fill="#f00c14" text-anchor="middle"><tspan font-style="italic">hdr</tspan>D</text>
<rect x="529.5" y="526.9" width="60.2" height="16.4" rx="2" fill="#fff" stroke="#888" stroke-width="0.8"/>
<text x="559.6" y="538.8" font-size="13" text-anchor="middle"><tspan font-style="italic">hdr</tspan>A<tspan font-size="7.2" dy="3.2">1</tspan><tspan dy="-3.2">A</tspan><tspan font-size="7.2" dy="3.2">2</tspan></text>
<rect x="555.2" y="544.2" width="43.3" height="13.1" rx="2" fill="#fff" stroke="#888" stroke-width="0.8"/>
<text x="576.9" y="553.9" font-size="8.8" text-anchor="middle"><tspan font-style="italic">hdr</tspan>B<tspan font-size="4.8" dy="2.2">1</tspan><tspan dy="-2.2">B</tspan><tspan font-size="4.8" dy="2.2">2</tspan></text>
<rect x="585.3" y="558.4" width="45.5" height="12.8" rx="2" fill="#fff" stroke="#888" stroke-width="0.8"/>
<text x="608" y="567.9" font-size="9.2" text-anchor="middle"><tspan font-style="italic">hdr</tspan>C<tspan font-size="5.1" dy="2.3">1</tspan><tspan dy="-2.3">C</tspan><tspan font-size="5.1" dy="2.3">2</tspan></text>
<text class="s" transform="translate(527.6 18.6) scale(0.9 1)" font-size="9" text-anchor="start">CHO-MF</text>
<text class="s" transform="translate(492.8 33.4) scale(0.9 1)" font-size="9" text-anchor="start">MF</text>
<text class="s" transform="translate(474.1 39.9) scale(0.9 1)" font-size="9" text-anchor="start">CO<tspan font-size="6.3">2</tspan></text>
<text class="s" transform="translate(291.6 164.3) scale(0.9 1)" font-size="9" text-anchor="start">CHO-MF</text>
<text class="s" transform="translate(362.8 171.9) scale(0.9 1)" font-size="9" text-anchor="start">H<tspan font-size="6.3">4</tspan>SPT</text>
<text class="s" transform="translate(311.4 213.5) scale(0.9 1)" font-size="9" text-anchor="start">MF</text>
<text class="s" transform="translate(363.1 219.3) scale(0.9 1)" font-size="9" text-anchor="start">CHO-H<tspan font-size="6.3">4</tspan>SPT</text>
<text class="s" transform="translate(591.5 226.3) scale(0.9 1)" font-size="9" text-anchor="start">H<tspan font-size="6.3">2</tspan>O</text>
<text class="s" transform="translate(537.3 231.2) scale(0.9 1)" font-size="9" text-anchor="start">CH≡H<tspan font-size="6.3">4</tspan>SPT</text>
<text class="s" transform="translate(470.4 216.9) scale(0.9 1)" font-size="9" text-anchor="start">F420<tspan font-size="5.6" dy="2.7">RED</tspan><tspan dy="-2.7">&#8203;</tspan></text>
<text class="s" transform="translate(462.2 253.4) scale(0.9 1)" font-size="9" text-anchor="start">F420<tspan font-size="5.6" dy="2.7">OX</tspan><tspan dy="-2.7">&#8203;</tspan></text>
<text class="s" transform="translate(493.9 256.6) scale(0.9 1)" font-size="9" text-anchor="start">CH<tspan font-size="6.3">2</tspan>=H<tspan font-size="6.3">4</tspan>SPT</text>
<text class="s" transform="translate(554.2 245.7) scale(0.9 1)" font-size="9" text-anchor="start">F420<tspan font-size="5.6" dy="2.7">RED</tspan><tspan dy="-2.7">&#8203;</tspan></text>
<text class="s" transform="translate(511 277.5) scale(0.9 1)" font-size="9" text-anchor="start">F420<tspan font-size="5.6" dy="2.7">OX</tspan><tspan dy="-2.7">&#8203;</tspan></text>
<text class="s" transform="translate(540.9 283) scale(0.9 1)" font-size="9" text-anchor="start">CH<tspan font-size="6.3">3</tspan>-H<tspan font-size="6.3">4</tspan>SPT</text>
<text class="s" transform="translate(598 371.3) scale(0.9 1)" font-size="9" text-anchor="start">CoM-SH</text>
<text class="s" transform="translate(534.7 371.7) scale(0.9 1)" font-size="9" text-anchor="start">CH<tspan font-size="6.3">3</tspan>-S-CoM</text>
<text class="s" transform="translate(511.9 358.2) scale(0.9 1)" font-size="9" text-anchor="start">H<tspan font-size="6.3">4</tspan>SPT</text>
<text class="s" transform="translate(460.2 382.7) scale(0.9 1)" font-size="9" text-anchor="start">CH<tspan font-size="6.3">4</tspan></text>
<text class="s" transform="translate(445.7 460.1) scale(0.9 1)" font-size="9" text-anchor="start">CoB-S-S-CoM</text>
<text class="s" transform="translate(479.7 470.3) scale(0.9 1)" font-size="9" text-anchor="start">2H<tspan font-size="5.4" dy="-3.6">+</tspan><tspan dy="3.6">&#8203;</tspan></text>
<text class="s" transform="translate(395.8 470.6) scale(0.9 1)" font-size="9" text-anchor="start">CoM-SH</text>
<text class="s" transform="translate(432 475) scale(0.9 1)" font-size="9" text-anchor="start">CoB-SH</text>
<text class="s" transform="translate(500 532) scale(0.9 1)" font-size="9" text-anchor="start">Fd<tspan font-size="5.6" dy="2.7">OX</tspan><tspan dy="-2.7">&#8203;</tspan></text>
<text class="s" transform="translate(493.6 545.7) scale(0.9 1)" font-size="9" text-anchor="start">Fd<tspan font-size="5.6" dy="2.7">RED</tspan><tspan dy="-2.7">&#8203;</tspan></text>
<text class="s" transform="translate(493.6 559.6) scale(0.9 1)" font-size="9" text-anchor="start">F420<tspan font-size="5.6" dy="2.7">OX</tspan><tspan dy="-2.7">&#8203;</tspan></text>
<text class="s" transform="translate(513.5 576.8) scale(0.9 1)" font-size="9" text-anchor="start">F420<tspan font-size="5.6" dy="2.7">RED</tspan><tspan dy="-2.7">&#8203;</tspan></text>
<text class="s" transform="translate(600.6 512.6) scale(0.9 1)" font-size="9" text-anchor="start">CoM-SH</text>
<text class="s" transform="translate(604.3 528.7) scale(0.9 1)" font-size="9" text-anchor="start">CoB-SH</text>
<text class="s" transform="translate(610.7 540.5) scale(0.9 1)" font-size="9" text-anchor="start">CoB-S-S-CoM</text>
<path d="M10 585.05H674" stroke="#000" stroke-width="2.15" fill="none"/>
<path d="M0.3 585.05L16.6 578.4L12.8 585.05L16.6 591.7Z" fill="#000"/>
<path d="M684.8 585.05L668.5 578.4L672.3 585.05L668.5 591.7Z" fill="#000"/>
<path d="M54.9 585V599.6" stroke="#000" stroke-width="2.2"/>
<text x="54.9" y="618.1" font-size="19.7" text-anchor="middle">-15.0</text>
<path d="M142.9 585V599.6" stroke="#000" stroke-width="2.2"/>
<text x="142.9" y="618.1" font-size="19.7" text-anchor="middle">-12.5</text>
<path d="M231 585V599.6" stroke="#000" stroke-width="2.2"/>
<text x="231" y="618.1" font-size="19.7" text-anchor="middle">-10.0</text>
<path d="M319 585V599.6" stroke="#000" stroke-width="2.2"/>
<text x="319" y="618.1" font-size="19.7" text-anchor="middle">-7.5</text>
<path d="M407.1 585V599.6" stroke="#000" stroke-width="2.2"/>
<text x="407.1" y="618.1" font-size="19.7" text-anchor="middle">-5.0</text>
<path d="M495.1 585V599.6" stroke="#000" stroke-width="2.2"/>
<text x="495.1" y="618.1" font-size="19.7" text-anchor="middle">-2.5</text>
<path d="M583.2 585V599.6" stroke="#000" stroke-width="2.2"/>
<text x="583.2" y="618.1" font-size="19.7" text-anchor="middle">0.0</text>
<path d="M99.1 586.6V600" stroke="#111" stroke-width="1.2" stroke-dasharray="1.2 1.5"/>
<path d="M187.1 586.6V600" stroke="#111" stroke-width="1.2" stroke-dasharray="1.2 1.5"/>
<path d="M275.2 586.6V600" stroke="#111" stroke-width="1.2" stroke-dasharray="1.2 1.5"/>
<path d="M363.2 586.6V600" stroke="#111" stroke-width="1.2" stroke-dasharray="1.2 1.5"/>
<path d="M451.3 586.6V600" stroke="#111" stroke-width="1.2" stroke-dasharray="1.2 1.5"/>
<path d="M539.4 586.6V600" stroke="#111" stroke-width="1.2" stroke-dasharray="1.2 1.5"/>
<path d="M627.4 586.6V600" stroke="#111" stroke-width="1.2" stroke-dasharray="1.2 1.5"/>
<text x="173.5" y="644.9" font-size="20.65">Log<tspan font-size="12.5" dy="5">2</tspan><tspan dy="-5">-Fold Change Expression ± SE</tspan></text>
<rect x="8.7" y="36.5" width="179.5" height="370.5" fill="#cccccc" stroke="#333" stroke-width="1.2"/>
<text class="b" x="95.2" y="59.2" font-size="18.3" text-anchor="middle">Mean of</text>
<text class="b" x="98.3" y="80" font-size="18.3" text-anchor="middle">Normalized Counts</text>
<path d="M97.9 107H103.8M86.8 137.3H102.8M80.7 164.4H102.8M75.8 188H102.8M75.2 210.4H102.8" stroke="#666" stroke-width="0.9" fill="none"/>
<rect x="26.7" y="92.2" width="71.2" height="29.2" rx="3.5" fill="#ffffff" stroke="#888" stroke-width="1"/>
<text x="62.3" y="112.8" font-size="24.6" fill="#000" text-anchor="middle"><tspan font-style="italic">fmd</tspan>A</text>
<rect x="38" y="126.5" width="48.8" height="21.5" rx="3" fill="#ffc5c5" stroke="#f2585f" stroke-width="1"/>
<text x="62.4" y="142.8" font-size="15.4" fill="#f00c14" text-anchor="middle"><tspan font-style="italic">fmd</tspan>C</text>
<rect x="44.2" y="155.2" width="36.5" height="18.7" rx="3" fill="#ffc5c5" stroke="#f2585f" stroke-width="1"/>
<text x="62.5" y="168.3" font-size="10.3" fill="#f00c14" text-anchor="middle"><tspan font-style="italic">mcr</tspan>B</text>
<rect x="48.2" y="179.7" width="27.6" height="16.3" rx="3" fill="#ffc5c5" stroke="#f2585f" stroke-width="1"/>
<text x="62" y="190.8" font-size="7.8" fill="#f00c14" text-anchor="middle"><tspan font-style="italic">hdr</tspan>E</text>
<rect x="49" y="202.4" width="26.2" height="15" rx="3" fill="#ffc5c5" stroke="#f2585f" stroke-width="1"/>
<text x="62.1" y="212" font-size="5.8" fill="#f00c14" text-anchor="middle"><tspan font-style="italic">fwd</tspan>D</text>
<text x="105.7" y="114.6" font-size="17.6">3x10<tspan font-size="10.2" dy="-5.5" dx="0.6">4</tspan></text>
<text x="106.4" y="140.2" font-size="17.6">1x10<tspan font-size="10.2" dy="-5.5" dx="0.6">4</tspan></text>
<text x="105.7" y="166.2" font-size="17.6">3x10<tspan font-size="10.2" dy="-5.5" dx="0.6">3</tspan></text>
<text x="106.4" y="192.1" font-size="17.6">1x10<tspan font-size="10.2" dy="-5.5" dx="0.6">3</tspan></text>
<text x="105.7" y="217.8" font-size="17.6">3x10<tspan font-size="10.2" dy="-5.5" dx="0.6">2</tspan></text>
<path d="M11.6 271.7C11.8 270.3 12 268.6 13.1 267.7C14.2 266.8 16 266.3 18.1 266.2C20.2 266.1 23.1 266.6 26 267.1C28.9 267.6 32.5 268.6 35.2 269.1C37.9 269.6 40.8 270.1 42.4 270C44 269.9 44.6 269.4 45.1 268.4C45.6 267.4 45.1 265.2 45.5 263.8C45.9 262.4 46.4 261 47.7 260.2C49.1 259.4 51.3 258.8 53.6 258.9C55.9 259 58.9 259.6 61.5 260.8C64.1 262 67.1 263.8 69.4 265.8C71.7 267.8 73.9 270.2 75.3 273C76.7 275.8 77.1 279.4 77.9 282.8C78.7 286.2 79.3 290.1 79.9 293.4C80.5 296.7 81.6 299.9 81.5 302.6C81.4 305.3 80.6 307.7 79.2 309.8C77.8 311.9 75.8 313.6 73.3 315C70.8 316.4 66.8 317.9 64.1 318.3C61.4 318.7 58.8 318.4 56.9 317.3C55 316.2 53.5 314.2 52.6 311.8C51.7 309.4 51.5 305.7 51.6 302.6C51.7 299.5 52.6 295.7 53 293.4C53.4 291.1 54.2 289 53.9 288.8C53.6 288.6 52.4 290.6 51 292C49.6 293.4 47.7 295.8 45.7 297.3C43.7 298.8 41.3 300.3 39.2 301C37.1 301.7 35.2 301.9 33.2 301.5C31.2 301.1 29.4 300.5 27.3 298.9C25.2 297.3 22.8 294.4 20.8 292C18.8 289.6 16.9 286.8 15.5 284.2C14.1 281.6 12.8 278.4 12.2 276.3C11.5 274.2 11.4 273.1 11.6 271.7Z" fill="#9accff" stroke="#5f90d8" stroke-width="0.8"/>
<path d="M17.4 344C17.5 342.6 17.8 340.9 18.9 340C20 339.1 21.8 338.6 23.9 338.5C26.1 338.4 29 338.9 31.8 339.4C34.6 339.9 38.3 340.9 41 341.4C43.7 341.9 46.5 342.4 48.2 342.3C49.8 342.2 50.4 341.7 50.9 340.7C51.4 339.7 50.9 337.5 51.3 336.1C51.7 334.7 52.1 333.3 53.5 332.5C54.9 331.7 57.1 331.1 59.4 331.2C61.7 331.3 64.7 332 67.3 333.1C69.9 334.2 72.9 336.1 75.2 338.1C77.5 340.1 79.7 342.5 81.1 345.3C82.5 348.1 82.9 351.7 83.7 355.1C84.5 358.5 85.1 362.4 85.7 365.7C86.3 369 87.4 372.2 87.3 374.9C87.2 377.6 86.4 380 85 382.1C83.6 384.2 81.6 385.9 79.1 387.3C76.6 388.7 72.6 390.2 69.9 390.6C67.2 391 64.6 390.7 62.7 389.6C60.8 388.5 59.3 386.6 58.4 384.1C57.5 381.7 57.3 378 57.4 374.9C57.5 371.8 58.4 368 58.8 365.7C59.2 363.4 60 361.3 59.7 361.1C59.4 360.9 58.2 362.9 56.8 364.3C55.4 365.7 53.5 368.1 51.5 369.6C49.5 371.1 47.1 372.6 45 373.3C42.9 374 41 374.2 39 373.8C37 373.4 35.2 372.8 33.1 371.2C31 369.6 28.6 366.8 26.6 364.3C24.6 361.9 22.7 359.1 21.3 356.5C19.9 353.9 18.6 350.7 18 348.6C17.4 346.5 17.2 345.4 17.4 344Z" fill="#fffa96" stroke="#f7d860" stroke-width="0.8"/>
<text x="86.9" y="287.5" font-size="17.8">Cytoplasmic</text>
<text x="86.9" y="308.2" font-size="17.8">Enzyme</text>
<text x="86.9" y="359.2" font-size="17.8">Periplasmic</text>
<text x="86.9" y="380" font-size="17.8">Enzyme</text>
<rect x="37.1" y="420.5" width="122" height="98.8" fill="#cccccc" stroke="#333" stroke-width="1.2"/>
<text class="b" x="97.8" y="436.8" font-size="18.3" text-anchor="middle">LFC</text>
<text class="b" x="97.9" y="458.3" font-size="18.3" text-anchor="middle">Significance</text>
<rect x="48.4" y="464.6" width="31.2" height="17" rx="3.5" fill="#fff" stroke="#888" stroke-width="0.9"/>
<rect x="48.4" y="490.2" width="31.2" height="17.3" rx="3.5" fill="#ffc8c8" stroke="#f07078" stroke-width="0.8"/>
<text x="85.5" y="478.8" font-size="16.4"><tspan font-style="italic">P</tspan> &gt; 0.05</text>
<text x="85.5" y="504.6" font-size="16.4"><tspan font-style="italic">P</tspan> ≤ 0.05</text>
</svg>
</body></html>
